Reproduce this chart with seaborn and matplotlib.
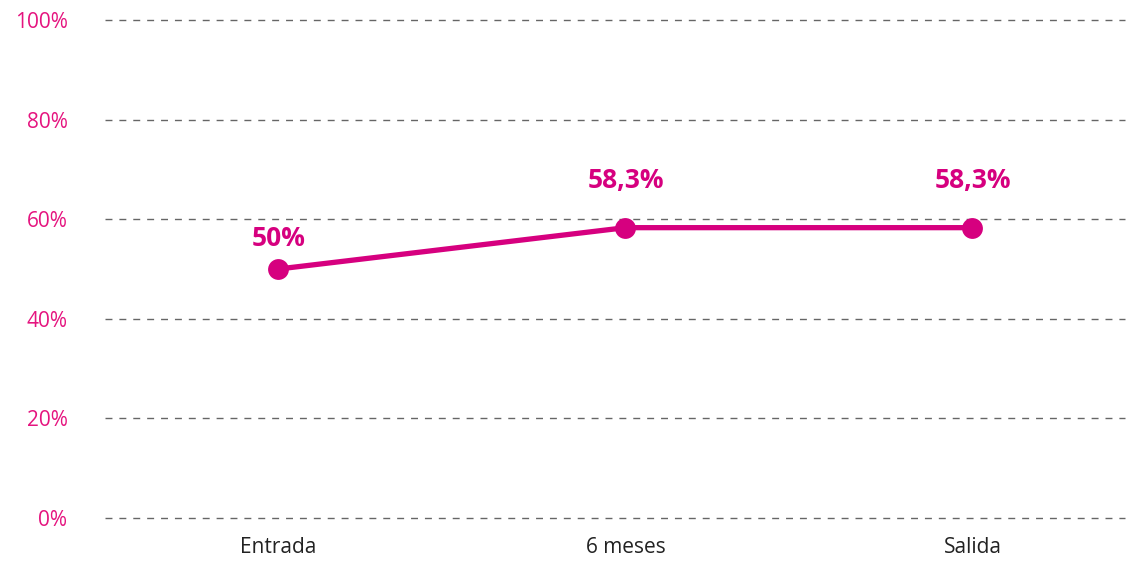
import numpy as np
import pandas as pd
import matplotlib.pyplot as plt
import seaborn as sns

# Data
etapas = ["Entrada", "6 meses", "Salida"]
valores = [50.0, 58.3, 58.3]
etiquetas = ["50%", "58,3%", "58,3%"]

df = pd.DataFrame({"x": np.arange(len(etapas)), "valor": valores})

sns.set_style("white")
plt.rcParams['font.family'] = ['Open Sans', 'DejaVu Sans']

magenta = "#d6007f"
rosa = "#e5147f"

fig = plt.figure(figsize=(11.31, 5.65), dpi=100)
ax = fig.add_axes([0.0928, 0.0832, 0.902, 0.8814])

sns.lineplot(data=df, x="x", y="valor", ax=ax, color=magenta, linewidth=3.8,
             marker="o", markersize=15, markeredgewidth=0, zorder=3)

# Labels above points
desplaz = [22, 34, 34]
for xi, v, t, d in zip(df.x, valores, etiquetas, desplaz):
    ax.annotate(t, (xi, v), xytext=(0, d), textcoords="offset points",
                ha="center", va="center", fontsize=19, fontweight="bold",
                color=magenta)

# Decorations
ax.set_ylim(0, 100)
ax.set_xlim(-0.5, 2.44)
ax.set_yticks(range(0, 101, 20))
ax.set_yticklabels([f"{v}%" for v in range(0, 101, 20)], color=rosa, fontsize=15)
ax.set_xticks(df.x)
ax.set_xticklabels(etapas, fontsize=15, color="#222222")
ax.tick_params(axis="x", length=0, pad=14)
ax.tick_params(axis="y", length=0, pad=27)
ax.set_xlabel("")
ax.set_ylabel("")
for s in ax.spines.values():
    s.set_visible(False)
for v in range(0, 101, 20):
    ax.axhline(v, color="#666666", linewidth=1, linestyle=(0, (5, 5)), zorder=1,
               clip_on=False)

fig.savefig("out.png", dpi=100)
